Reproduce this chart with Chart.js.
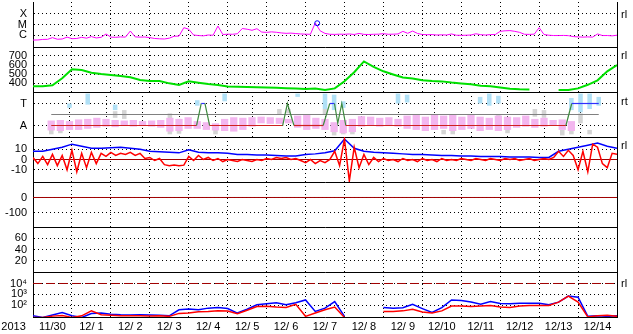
<!DOCTYPE html>
<html>
<head>
<meta charset="utf-8">
<title>Space weather 2013/11/30 - 12/14</title>
<script src="https://cdn.jsdelivr.net/npm/chart.js@4.4.1/dist/chart.umd.min.js"></script>
<style>
  body { margin: 0; background: #fff; }
  #board { position: relative; width: 633px; height: 334px; overflow: hidden; }
  #board canvas { position: absolute; left: 0; }
</style>
</head>
<body>
<div id="board">
  <canvas id="xray" width="633" height="46" style="top:2px"></canvas>
  <canvas id="wind" width="633" height="46" style="top:47px"></canvas>
  <canvas id="alert" width="633" height="46" style="top:92px"></canvas>
  <canvas id="imf" width="633" height="46" style="top:137px"></canvas>
  <canvas id="dst" width="633" height="46" style="top:182px"></canvas>
  <canvas id="kp" width="633" height="46" style="top:227px"></canvas>
  <canvas id="proton" width="633" height="62" style="top:272px"></canvas>
</div>
<script>
// days counted from 2013-11-30 00:00, 15 days on the axis
const DAYS = 15;
const dayLabels = ["2013", "11/30", "12/ 1", "12/ 2", "12/ 3", "12/ 4", "12/ 5", "12/ 6", "12/ 7",
  "12/ 8", "12/ 9", "12/10", "12/11", "12/12", "12/13", "12/14"];

// X-ray flux, log10, one value every 3 h
const xrayLog = [
  -6.48, -6.47, -6.42, -6.41, -6.25, -6.40, -6.38, -6.20,
  -6.35, -6.33, -6.22, -6.30, -6.15, -6.28, -6.22, -5.90,
  -6.20, -6.22, -6.18, -6.20, -5.62, -6.18, -6.20, -6.19,
  -6.25, -6.33, -6.36, -6.38, -6.30, -6.12, -6.10, -5.30,
  -5.45, -6.00, -6.05, -6.08, -6.00, -6.02, -5.15, -5.95,
  -5.92, -5.93, -5.88, -5.38, -5.45, -5.55, -5.40, -5.72,
  -5.75, -5.70, -5.74, -5.80, -5.84, -5.82, -5.86, -5.90,
  -5.92, -5.93, -4.85, -5.60, -5.85,
  -5.93, -5.94, -5.92, -5.93, -5.90, -5.95, -5.85, -5.94,
  -5.95, -5.93, -5.92, -5.87, -5.93, -5.92, -5.90, -5.65,
  -5.84, -5.62, -5.85, -5.95, -5.97, -5.96, -6.00, -5.98,
  -6.00, -5.90, -6.02, -6.03, -6.02, -6.00, -5.88, -5.97,
  -6.00, -5.96, -5.95, -5.65, -5.60, -5.58, -5.65, -5.75,
  -5.93, -5.94, -5.92, -5.30, -5.95, -6.02, -6.05, -6.05,
  -6.04, -6.06, -6.15, -6.18, -6.20, -6.18, -6.20, -5.90,
  -6.05, -6.05, -6.08, -6.02];
const flareT = [7.3];
const flareLog = [-4.88];

// solar wind speed (km/s), every 6 h
const windSpeed = [365, 365, 375, 452, 552, 545, 515, 500, 489, 478, 463, 433, 422, 422, 396,
  378, 420, 404, 389, 378, 362, 358, 356, 354, 350, 346, 342, 340, 334, 338,
  322, 340, 420, 520, 640, 580, 530, 495, 462, 450, 430, 422, 418, 405, 395,
  385, 370, 365, 350, 335, 330, 328, null, null, 322, 322, 340, 380, 430, 530, 600];

// alert status (A = 1, T = 3)
const alertT = [0, 3.98, 4.11, 4.21, 4.34, 6.34, 6.47, 6.65, 7.45, 7.63, 7.76, 7.85, 7.96, 8.07, 14.10, 14.26, 15];
const alertV = [1, 1, 3, 3, 1, 1, 3, 1, 1, 3, 3, 1.2, 3, 1, 1, 3, 3];
// scattered indices, low/high per 6 h
const pinkHi = [1.45, 1.5, 1.4, 1.55, 1.6, 1.7, 1.6, 1.5, 1.45, 1.5, 1.4, 1.45, 1.5, 1.7, 1.6,
  1.75, 1.4, 1.3, 1.2, 1.6, 1.75, 1.7, 1.75, 1.8, 1.75, 1.7, 1.6, 1.9, 1.95, 1.7,
  1.6, 1.3, 1.5, 1.6, 1.85, 1.8, 1.7, 1.75, 1.6, 1.9, 1.95, 1.8, 2.0, 1.9, 2.0,
  1.8, 1.95, 1.8, 1.7, 1.9, 1.8, 1.75, 1.9, 1.6, 1.7, 1.5, 1.55, 1.4, null, null, null];
const pinkLo = [0.55, 0.5, 0.6, 0.6, 0.7, 0.8, 0.9, 0.85, 0.95, 0.9, 0.95, 0.9, 0.8, 0.45, 0.5,
  0.7, 0.7, 0.6, 0.55, 0.5, 0.45, 0.6, 0.9, 1.2, 1.15, 1.15, 1.2, 0.8, 0.6, 0.7,
  0.6, 0.4, 0.3, 0.4, 0.9, 1.0, 0.9, 0.95, 0.9, 0.7, 0.6, 0.5, 0.6, 0.7, 0.5,
  0.6, 0.7, 0.5, 0.6, 0.5, 0.6, 0.8, 0.9, 0.8, 0.9, 1.0, 0.6, 0.5, null, null, null];
const cyanT = [0.5, 1.0, 1.75, 4.0, 4.75, 6.75, 7.5, 7.75, 8.0, 9.5, 9.75, 11.75, 12.0, 12.25, 14.25, 14.5, 14.75, 15.0];
const cyanHi = [3.0, 3.9, 2.9, 3.3, 3.9, 3.9, 3.9, 3.8, 3.2, 3.9, 3.8, 3.6, 3.9, 3.7, 3.5, 3.9, 3.9, 3.6];
const cyanLo = [2.6, 2.9, 2.4, 2.8, 3.2, 3.6, 2.5, 2.4, 2.6, 3.0, 3.1, 3.0, 2.8, 3.0, 2.4, 2.2, 2.5, 2.8];
const greyT = [0, 0.25, 1.75, 2.0, 3.25, 3.5, 4.5, 6.25, 6.5, 7.5, 7.75, 8.0, 8.25, 10.75, 11.0,
  12.25, 12.5, 13.25, 13.5, 14.0, 14.25, 14.5, 14.75];
const greyHi = [0.95, 0.7, 2.3, 2.4, 2.1, 1.6, 0.9, 2.5, 2.5, 2.5, 0.6, 0.7, 0.6, 0.6, 0.7,
  2.0, 0.8, 2.5, 2.4, 0.6, 0.8, 2.1, 0.6];
const greyLo = [0.2, 0.3, 1.7, 1.6, 0.2, 0.25, 0.2, 2.0, 2.1, 2.0, 0.1, 0.2, 0.2, 0.2, 0.2,
  1.5, 0.3, 1.8, 1.7, 0.1, 0.2, 1.2, 0.2];

// IMF Bz every 3 h, Bt every 6 h (nT)
const bz = [
  2, -4, 3, -5, 5, -6, 4, -10,
  9, -12, 6, -8, 7, -4, 6, 3,
  7, 4, 6, 5, 7, 4, 6, 1,
  2, -1, 1, -5, -6, -5.5, -6, -5.5,
  3, -1, 4, 0, 2, -1, 1, -2,
  0, -1, -2, 0, -1, -2, 0, -1,
  1, 0, 2, 1, 2, 0, 1, -1,
  -3, 0, -4, -1, -3,
  0, 8, -6, 20, -21, 12, -8, 5,
  -5, 2, -2, 1, -1, 0, -2, 1,
  -1, 0, -2, 1, -1, 0, -2, 1,
  -1, 0, -1, 1, 0, -1, 1, 0,
  -1, 1, 0, -1, 1, 0, 1, -1,
  0, 1, -1, 0, 1, 0, 2, 8,
  3, 9, 4, -10, 8, -12, 15, 12,
  -4, -8, 6, 5];
const bt = [8, 8, 10, 12, 15, 13, 11, 11, 11.5, 12, 11, 10, 8, 7.5, 7,
  6.5, 9.5, 7, 6.5, 6.5, 6, 5, 5, 4.5, 4.5, 4, 3.5, 3.5, 5, 5.5,
  6.5, 8.5, 20, 11, 8, 7, 6.5, 6, 5.5, 5, 5, 4.5, 4, 4, 3.5,
  3.5, 3, 3, 3, 2.5, 2.5, 2.5, 2, 2, 8, 10, 12, 14, 16, 13, 11];

// proton flux, log10, every 6 h
const protonBlue = [1.05, 0.9, 1.12, 1.35, 1.05, 0.9, 1.25, 1.3, 1.2, 1.15, 1.12, 1.15, 1.12, 1.1, 1.05,
  1.6, 1.68, 1.6, 1.75, 1.8, 1.72, 1.3, 1.65, 2.05, 2.15, 2.25, 2.05, 2.25, 2.5, 1.45,
  1.75, 2.35, 1.0, null, null, null, 1.8, 1.75, 1.78, 2.1, 1.7, 1.35, 1.8, 2.5, 2.45,
  2.3, 2.1, 2.35, 2.18, 2.15, 2.2, 2.2, 2.2, 2.05, 2.3, 2.85, 2.75, 1.0, 1.05, 1.0, 1.05];
const protonRed = [0.9, 0.9, 1.02, 1.08, 0.9, 1.05, 1.5, 1.15, 1.1, 1.05, 1.05, 1.05, 1.03, 1.05, 1.0,
  1.27, 1.3, 1.42, 1.45, 1.5, 1.48, 1.25, 1.55, 1.9, 1.92, 1.85, 1.8, 2.1, 1.0, 1.3,
  1.6, 1.85, 0.9, null, null, null, 1.45, 1.45, 1.5, 1.65, 1.4, 1.3, 1.5, 1.94, 1.94,
  1.9, 1.95, 2.0, 1.85, 1.8, 1.95, 2.0, 2.0, 2.0, 2.3, 2.85, 2.3, 0.95, 1.05, 1.1, 1.0];

Chart.defaults.font.family = "'Liberation Sans', Arial, sans-serif";
Chart.defaults.font.size = 11;
Chart.defaults.color = "#000";
Chart.defaults.animation = false;
Chart.defaults.events = [];
Chart.defaults.plugins.legend.display = false;
Chart.defaults.plugins.tooltip.enabled = false;
Chart.defaults.elements.point.radius = 0;
Chart.defaults.elements.line.borderWidth = 1;

const every = (vals, step) => vals.map((v, i) => ({ x: i * step, y: v }));
const pairs = (xs, ys) => xs.map((x, i) => ({ x: x, y: ys[i] }));
const ranges = (xs, lo, hi) => xs.map((x, i) => ({ x: x, y: [lo[i], hi[i]] }));
const level = (v) => [{ x: 0, y: v }, { x: DAYS, y: v }];
const dayLines = Array.from({ length: DAYS + 1 }, (_, i) => i);

function setTicks(values) {
  return (scale) => { scale.ticks = values.map((v) => ({ value: v })); };
}
function fixWidth(w) {
  return (scale) => { scale.width = w; scale.paddingTop = 0; scale.paddingBottom = 0; };
}
function fixHeight(h) {
  return (scale) => { scale.height = h; scale.paddingLeft = 0; scale.paddingRight = 0; };
}
function band(color, data, order, pct) {
  return { type: "bar", data: data, backgroundColor: color, grouped: false,
    barPercentage: pct, categoryPercentage: 1, order: order };
}

function panel(id, opt) {
  const scales = {
    x: {
      type: "linear", min: 0, max: DAYS,
      afterBuildTicks: setTicks(dayLines),
      ticks: { display: false },
      grid: { color: "#000", drawTicks: false },
      border: { color: "#000", dash: [1, 3] },
      afterFit: fixHeight(0)
    },
    y: {
      min: opt.min, max: opt.max,
      afterBuildTicks: setTicks(opt.ticks),
      ticks: { padding: 6, autoSkip: false, callback: (v, i) => opt.labels[i] },
      grid: { color: "#000", drawTicks: false },
      border: { color: "#000", dash: [1, 3] },
      afterFit: fixWidth(33)
    },
    yR: {
      position: "right", min: opt.min, max: opt.max,
      afterBuildTicks: setTicks(opt.tag ? [opt.tag[0]] : []),
      ticks: { padding: 4, autoSkip: false, callback: () => opt.tag[1] },
      grid: { display: false, drawTicks: false },
      border: { color: "#000" },
      afterFit: fixWidth(16)
    }
  };
  if (opt.dates) {
    scales.xl = {
      type: "linear", position: "bottom", weight: 1, min: 0, max: DAYS,
      afterBuildTicks: (s) => { s.ticks = dayLabels.map((_, i) => ({ value: i - 0.5 })); },
      ticks: { autoSkip: false, maxRotation: 0, padding: 3, callback: (v, i) => dayLabels[i] },
      grid: { display: false, drawTicks: false },
      border: { display: false },
      afterFit: fixHeight(17)
    };
  }
  return new Chart(document.getElementById(id), {
    type: "line",
    data: { datasets: opt.datasets },
    options: {
      responsive: false,
      devicePixelRatio: 1,
      layout: { autoPadding: false, padding: { bottom: opt.dates ? 0 : 1 } },
      scales: scales
    }
  });
}

panel("xray", {
  min: -7.14, max: -2.86, ticks: [-4, -5, -6], labels: ["X", "M", "C"], tag: [-4.1, "rl"],
  datasets: [
    { data: pairs(flareT, flareLog), showLine: false, pointRadius: 2.5, pointBorderWidth: 1,
      pointBorderColor: "#0000ff", pointBackgroundColor: "rgba(0,0,0,0)", order: 0 },
    { data: every(xrayLog, 0.125), borderColor: "#ff00ff", order: 1 }
  ]
});

panel("wind", {
  min: 300, max: 800, ticks: [700, 600, 500, 400], labels: ["700", "600", "500", "400"], tag: [700, "rl"],
  datasets: [
    { data: every(windSpeed, 0.25), borderColor: "#00e000", borderWidth: 2 }
  ]
});

panel("alert", {
  min: -0.045, max: 4.045, ticks: [3, 1], labels: ["T", "A"], tag: [3.1, "rt"],
  datasets: [
    { data: pairs(alertT, alertV), borderWidth: 1.2, order: 0,
      segment: {
        borderColor: (c) => {
          const a = c.p0.parsed.y, b = c.p1.parsed.y;
          if (a >= 3 && b >= 3) return "#3030ff";
          if (a <= 1 && b <= 1) return "#d02020";
          return "#3f8a3f";
        }
      } },
    { data: level(2), borderColor: "#808080", order: 1 },
    band("#f3b6ef", ranges(pinkHi.map((_, i) => i * 0.25), pinkLo, pinkHi).filter((p) => p.y[1] != null), 3, 0.8),
    band("#b0e0f6", ranges(cyanT, cyanLo, cyanHi), 4, 0.5),
    band("#d4d4d4", ranges(greyT, greyLo, greyHi), 5, 0.5)
  ]
});

panel("imf", {
  min: -22, max: 22, ticks: [10, 0, -10], labels: ["10", "0", "-10"], tag: [13, "rl"],
  datasets: [
    { data: every(bz, 0.125), borderColor: "#ff0000", borderWidth: 1.5, order: 0 },
    { data: every(bt, 0.25), borderColor: "#0000ff", borderWidth: 1.5, order: 1 },
    { data: level(0), borderColor: "#a00000", order: 2 }
  ]
});

panel("dst", {
  min: -196.67, max: 103.33, ticks: [0, -100], labels: ["0", "-100"],
  datasets: [
    { data: level(0), borderColor: "#a00000" }
  ]
});

panel("kp", {
  min: 0, max: 80, ticks: [60, 40, 20], labels: ["60", "40", "20"],
  datasets: []
});

panel("proton", {
  min: 0.94, max: 5.05, ticks: [4, 3, 2], labels: ["10\u2074", "10\u00b3", "10\u00b2"], tag: [4, "rl"],
  dates: true,
  datasets: [
    { data: every(protonRed, 0.25), borderColor: "#ff0000", borderWidth: 1.5, order: 0 },
    { data: every(protonBlue, 0.25), borderColor: "#0000ff", borderWidth: 1.5, order: 1 },
    { data: level(4), borderColor: "#a00000", borderDash: [9, 4], order: 2 }
  ]
});
</script>
</body>
</html>
